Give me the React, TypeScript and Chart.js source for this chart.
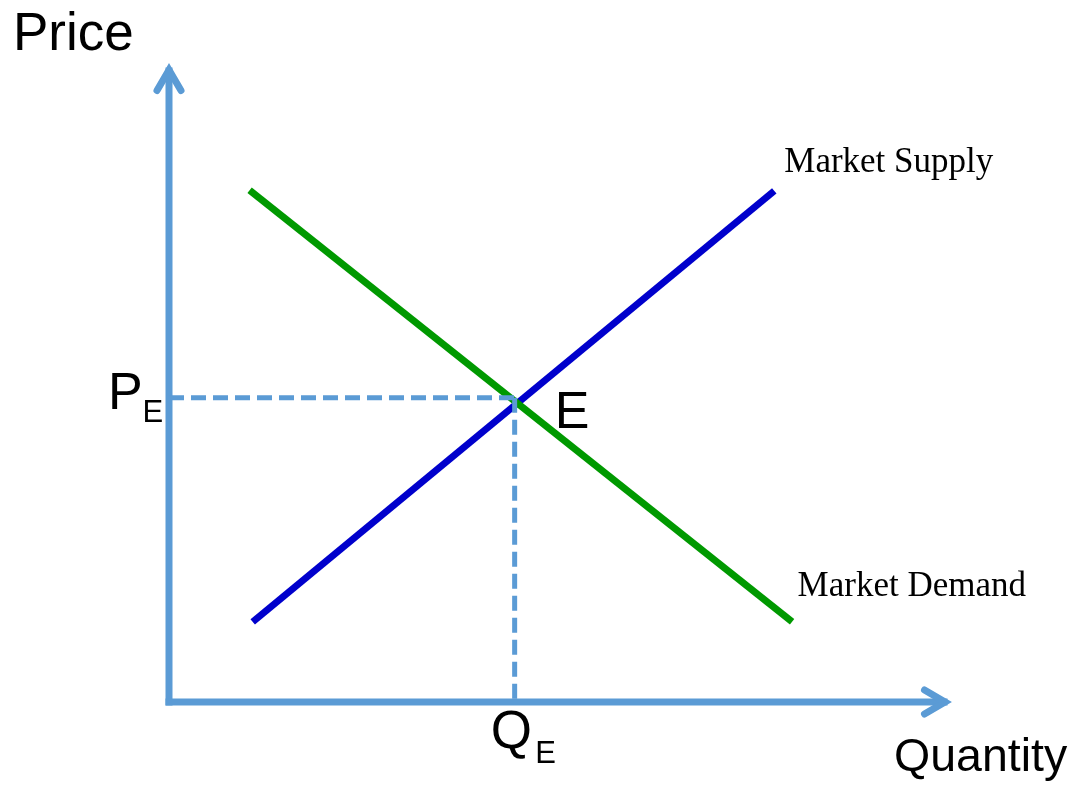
import React, { useEffect, useRef } from "react";
import { Chart, registerables } from "chart.js";

Chart.register(...registerables);

// ---- data (in chart units: x = quantity, y = price) ----
const axisMax = 10;
const supplyQ = [1.08, 7.81];
const supplyP = [1.27, 8.1];
const demandQ = [1.04, 8.04];
const demandP = [8.11, 1.27];
const eqQ = 4.46;
const eqP = 4.82;

const AXIS_COLOR = "#5B9BD5";
const SUPPLY_COLOR = "#0000CC";
const DEMAND_COLOR = "#009900";

const sans = "'Liberation Sans', Arial, sans-serif";
const serif = "'Liberation Serif', 'Times New Roman', serif";

const annotationPlugin = {
  id: "econAnnotations",
  afterDatasetsDraw(chart: any) {
    const ctx: CanvasRenderingContext2D = chart.ctx;
    const xs = chart.scales.x;
    const ys = chart.scales.y;
    const ox = xs.getPixelForValue(0);
    const oy = ys.getPixelForValue(0);
    const xEnd = xs.getPixelForValue(axisMax);
    const yEnd = ys.getPixelForValue(axisMax);

    // arrowheads
    ctx.save();
    ctx.strokeStyle = AXIS_COLOR;
    ctx.lineWidth = 7;
    ctx.lineCap = "round";
    ctx.lineJoin = "miter";
    ctx.beginPath();
    ctx.moveTo(ox - 12, yEnd + 19.5);
    ctx.lineTo(ox, yEnd - 1);
    ctx.lineTo(ox + 12, yEnd + 19.5);
    ctx.stroke();
    ctx.beginPath();
    ctx.moveTo(xEnd - 19.5, oy - 12);
    ctx.lineTo(xEnd + 1, oy);
    ctx.lineTo(xEnd - 19.5, oy + 12);
    ctx.stroke();
    ctx.restore();

    // texts
    const eqX = xs.getPixelForValue(eqQ);
    const eqY = ys.getPixelForValue(eqP);
    ctx.save();
    ctx.fillStyle = "#000";
    ctx.textAlign = "left";
    ctx.textBaseline = "alphabetic";

    const put = (t: string, font: string, x: number, y: number) => {
      ctx.font = font;
      ctx.fillText(t, x, y);
    };

    put("Price", `53px ${sans}`, ox - 156, yEnd - 21);
    put("Quantity", `46.5px ${sans}`, xEnd - 50, oy + 69);

    put("P", `52px ${sans}`, ox - 61, eqY + 11);
    put("E", `31px ${sans}`, ox - 26.5, eqY + 24);

    put("E", `52px ${sans}`, eqX + 40, eqY + 30);

    put("Q", `53px ${sans}`, eqX - 24, oy + 46);
    put("E", `31px ${sans}`, eqX + 20.5, oy + 61);

    const sx = xs.getPixelForValue(supplyQ[1]);
    const sy = ys.getPixelForValue(supplyP[1]);
    put("Market Supply", `35px ${serif}`, sx + 10, sy - 19);

    const dx = xs.getPixelForValue(demandQ[1]);
    const dy = ys.getPixelForValue(demandP[1]);
    put("Market Demand", `35px ${serif}`, dx + 5.5, dy - 26);
    ctx.restore();
  },
};

export default function App() {
  const ref = useRef<HTMLCanvasElement>(null);

  useEffect(() => {
    document.body.style.margin = "0";
    if (!ref.current) return;
    const line = (
      xsArr: number[],
      ysArr: number[],
      color: string,
      width: number,
      order: number,
      extra: any = {}
    ) => ({
      data: xsArr.map((x, i) => ({ x, y: ysArr[i] })),
      showLine: true,
      borderColor: color,
      backgroundColor: color,
      borderWidth: width,
      pointRadius: 0,
      fill: false,
      clip: false,
      order,
      ...extra,
    });

    const chart = new Chart(ref.current, {
      type: "scatter",
      data: {
        datasets: [
          line([0, axisMax], [0, 0], AXIS_COLOR, 7, 3, { borderCapStyle: "square" }),
          line([0, 0], [0, axisMax], AXIS_COLOR, 7, 3, { borderCapStyle: "square" }),
          line([0, eqQ], [eqP, eqP], AXIS_COLOR, 5, 0, { borderDash: [15, 7] }),
          line([eqQ, eqQ], [eqP, 0], AXIS_COLOR, 5, 0, { borderDash: [15, 7] }),
          line(demandQ, demandP, DEMAND_COLOR, 7, 1),
          line(supplyQ, supplyP, SUPPLY_COLOR, 7, 1),
        ] as any,
      },
      options: {
        responsive: false,
        devicePixelRatio: 1,
        animation: false,
        layout: { padding: { left: 169, right: 132, top: 71, bottom: 83 } },
        scales: {
          x: { type: "linear", min: 0, max: axisMax, display: false },
          y: { type: "linear", min: 0, max: axisMax, display: false },
        },
        plugins: {
          legend: { display: false },
          tooltip: { enabled: false },
        },
      } as any,
      plugins: [annotationPlugin],
    });
    return () => chart.destroy();
  }, []);

  return (
    <div style={{ width: 1076, height: 785, background: "#fff" }}>
      <canvas ref={ref} width={1076} height={785} style={{ display: "block" }} />
    </div>
  );
}
